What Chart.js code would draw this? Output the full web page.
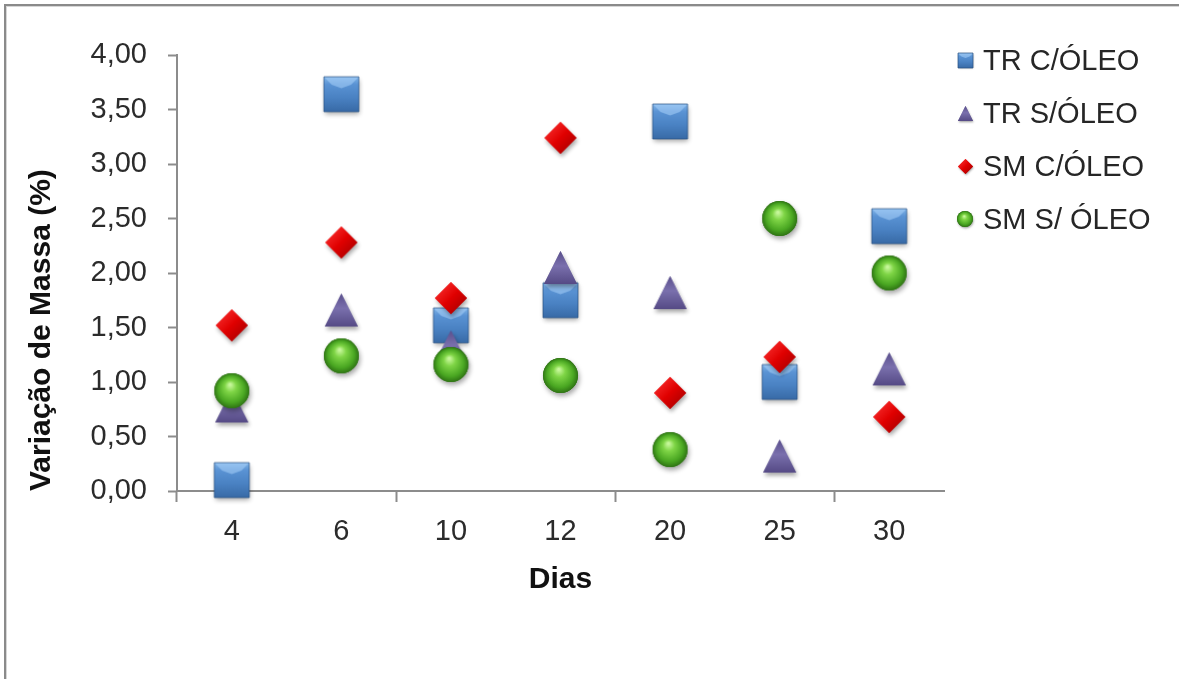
<!DOCTYPE html>
<html lang="pt-BR">
<head>
<meta charset="utf-8">
<title>Variação de Massa</title>
<script src="https://cdn.jsdelivr.net/npm/chart.js@4.4.1/dist/chart.umd.min.js"></script>
<style>
  html, body { margin: 0; padding: 0; background: #fff; }
  #frame {
    position: relative;
    width: 1179px;
    height: 679px;
    overflow: hidden;
    background: #fff;
    font-family: "Liberation Sans", Arial, sans-serif;
  }
  /* chart border, only the top and left edges fall inside the page */
  #frame .edge {
    position: absolute;
    left: 4px;
    top: 4px;
    width: 1400px;
    height: 900px;
    border-left: 2px solid #8a8a8a;
    border-top: 2px solid #8a8a8a;
    box-shadow: inset 1px 1px 0 #d6d6d6;
  }
  #chart-wrap { position: absolute; left: 0; top: 0; width: 1179px; height: 679px; }
  #legend { position: absolute; left: 0; top: 0; }
  #legend .item { position: absolute; white-space: nowrap; }
  #legend canvas { position: absolute; }
  #legend span {
    position: absolute;
    font-size: 29px;
    line-height: 34px;
    color: #262626;
  }
</style>
</head>
<body>
<div id="frame">
  <div class="edge"></div>
  <div id="chart-wrap"><canvas id="massChart"></canvas></div>
  <div id="legend"></div>
</div>

<script>
// Days of measurement (category axis)
const dias = ['4', '6', '10', '12', '20', '25', '30'];

// Mass variation (%) per series
const trComOleo = [0.10, 3.64, 1.52, 1.75, 3.39, 1.00, 2.43];
const trSemOleo = [0.78, 1.66, 1.32, 2.05, 1.82, 0.32, 1.12];
const smComOleo = [1.52, 2.28, 1.77, 3.24, 0.90, 1.23, 0.68];
const smSemOleo = [0.92, 1.24, 1.16, 1.06, 0.38, 2.50, 2.00];

const seriesNames = ['TR C/ÓLEO', 'TR S/ÓLEO', 'SM C/ÓLEO', 'SM S/ ÓLEO'];

// Y axis: 0,00 .. 4,00 every 0,50
const yMin = 0;
const yMax = 4;
const yStep = 0.5;

const AXIS_COLOR = '#8c8c8c';
const TEXT_COLOR = '#2b2b2b';
const FONT = '"Liberation Sans", Arial, sans-serif';

// Glossy marker drawn on its own canvas, shape centred in the canvas
function makeMarker(kind, size) {
  const pad = Math.ceil(size * 0.3);
  const c = document.createElement('canvas');
  c.width = c.height = size + pad * 2;
  const g = c.getContext('2d');
  const m = c.width / 2;
  const h = size / 2;

  const shape = () => {
    g.beginPath();
    if (kind === 'square') {
      g.rect(m - h, m - h, size, size);
    } else if (kind === 'diamond') {
      g.moveTo(m, m - h);
      g.lineTo(m + h, m);
      g.lineTo(m, m + h);
      g.lineTo(m - h, m);
      g.closePath();
    } else if (kind === 'triangle') {
      g.moveTo(m, m - h);
      g.lineTo(m + h, m + h);
      g.lineTo(m - h, m + h);
      g.closePath();
    } else {
      g.arc(m, m, h, 0, Math.PI * 2);
    }
  };

  let fill;
  if (kind === 'square') {
    fill = g.createLinearGradient(0, m - h, 0, m + h);
    fill.addColorStop(0, '#80b4e8');
    fill.addColorStop(0.22, '#5a93d4');
    fill.addColorStop(0.6, '#4a82c3');
    fill.addColorStop(1, '#386aa6');
  } else if (kind === 'diamond') {
    fill = g.createLinearGradient(m - h, m - h, m + h, m + h);
    fill.addColorStop(0, '#ff3a3a');
    fill.addColorStop(0.5, '#e00000');
    fill.addColorStop(1, '#9a0000');
  } else if (kind === 'triangle') {
    fill = g.createLinearGradient(0, m - h, 0, m + h);
    fill.addColorStop(0, '#5a4f8c');
    fill.addColorStop(0.45, '#7a70ad');
    fill.addColorStop(1, '#554a85');
  } else {
    fill = g.createRadialGradient(m - h * 0.1, m - h * 0.35, h * 0.05, m, m, h);
    fill.addColorStop(0, '#c6f79a');
    fill.addColorStop(0.3, '#7fd546');
    fill.addColorStop(0.75, '#4aa722');
    fill.addColorStop(1, '#2f7414');
  }

  // soft drop shadow under the marker
  g.save();
  g.shadowColor = 'rgba(0,0,0,0.35)';
  g.shadowBlur = size * 0.14;
  g.shadowOffsetX = size * 0.04;
  g.shadowOffsetY = size * 0.09;
  shape();
  g.fillStyle = fill;
  g.fill();
  g.restore();

  shape();
  g.fillStyle = fill;
  g.fill();

  if (kind === 'square') {
    // light "V" bevel on the top face
    g.beginPath();
    g.moveTo(m - h, m - h);
    g.lineTo(m + h, m - h);
    g.lineTo(m + h * 0.55, m - h * 0.55);
    g.lineTo(m, m - h * 0.35);
    g.lineTo(m - h * 0.55, m - h * 0.55);
    g.closePath();
    g.fillStyle = 'rgba(170,210,250,0.55)';
    g.fill();
    shape();
    g.lineWidth = 1;
    g.strokeStyle = 'rgba(40,80,130,0.7)';
    g.stroke();
  }
  return c;
}

const markerKinds = ['square', 'triangle', 'diamond', 'circle'];
const plotSizes = [35, 33, 32, 35];
const legendSizes = [15, 15, 15, 16];
const seriesData = [trComOleo, trSemOleo, smComOleo, smSemOleo];
// circles on top, squares at the bottom
const drawOrder = [3, 2, 1, 0];

const datasets = seriesNames.map((name, i) => ({
  label: name,
  data: seriesData[i],
  showLine: false,
  pointStyle: makeMarker(markerKinds[i], plotSizes[i]),
  pointRadius: plotSizes[i] / 2,
  pointHoverRadius: plotSizes[i] / 2,
  clip: false,
  order: drawOrder[i]
}));

// Legend on the right
const legendEl = document.getElementById('legend');
seriesNames.forEach((name, i) => {
  const yc = 60 + i * 53;
  const item = document.createElement('div');
  item.className = 'item';
  const icon = makeMarker(markerKinds[i], legendSizes[i]);
  icon.style.left = (965 - icon.width / 2) + 'px';
  icon.style.top = (yc - icon.height / 2) + 'px';
  const txt = document.createElement('span');
  txt.textContent = name;
  txt.style.left = '983px';
  txt.style.top = (yc - 17) + 'px';
  item.appendChild(icon);
  item.appendChild(txt);
  legendEl.appendChild(item);
});

const tickFont = { family: FONT, size: 29 };
const titleFont = { family: FONT, size: 30, weight: 'bold' };

new Chart(document.getElementById('massChart'), {
  type: 'line',
  data: { labels: dias, datasets },
  options: {
    responsive: true,
    maintainAspectRatio: false,
    animation: false,
    layout: { padding: { left: 0, top: 55, right: 235, bottom: 78 } },
    plugins: {
      legend: { display: false },
      tooltip: { enabled: false }
    },
    scales: {
      x: {
        offset: true,
        grid: {
          offset: true,
          drawOnChartArea: false,
          drawTicks: true,
          tickLength: 11,
          tickWidth: 2,
          // a tick mark every second category boundary
          tickColor: ctx => (ctx.index % 2 === 0 && ctx.index < dias.length) ? AXIS_COLOR : 'rgba(0,0,0,0)'
        },
        border: { display: true, color: AXIS_COLOR, width: 2 },
        ticks: { font: tickFont, color: TEXT_COLOR, padding: 13 },
        title: {
          display: true,
          text: 'Dias',
          font: titleFont,
          color: '#111',
          padding: { top: 0, bottom: 3 }
        },
        afterFit: scale => { scale.height = 110; }
      },
      y: {
        min: yMin,
        max: yMax,
        grid: {
          drawOnChartArea: false,
          drawTicks: true,
          tickLength: 9,
          tickWidth: 2,
          tickColor: AXIS_COLOR
        },
        border: { display: true, color: AXIS_COLOR, width: 2 },
        ticks: {
          stepSize: yStep,
          font: tickFont,
          color: TEXT_COLOR,
          padding: 21,
          callback: v => Number(v).toFixed(2).replace('.', ',')
        },
        title: {
          display: true,
          text: 'Variação de Massa (%)',
          align: 'start',
          font: titleFont,
          color: '#111',
          padding: { top: 24, bottom: 0 }
        },
        afterFit: scale => { scale.width = 177; }
      }
    }
  }
});
</script>
</body>
</html>
